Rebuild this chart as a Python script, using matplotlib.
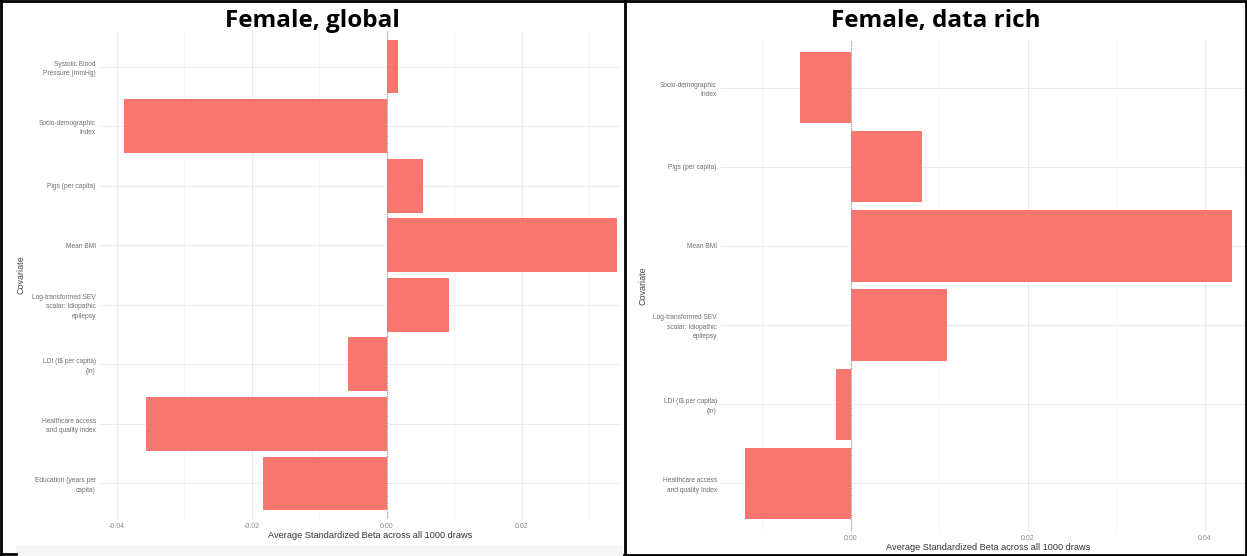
import matplotlib
matplotlib.use("Agg")
import matplotlib.pyplot as plt
from matplotlib.lines import Line2D
from matplotlib.patches import Rectangle

# Female, global
glob_labels = ["Systolic Blood\nPressure (mmHg)", "Socio-demographic\nIndex", "Pigs (per capita)",
               "Mean BMI", "Log-transformed SEV\nscalar: Idiopathic\nepilepsy",
               "LDI (I\\$ per capita)\n(ln)", "Healthcare access\nand quality index",
               "Education (years per\ncapita)"]
glob_vals = [0.0017, -0.0389, 0.0054, 0.0341, 0.0092, -0.0058, -0.0357, -0.0183]
glob_ticks = [-0.04, -0.02, 0.00, 0.02]

# Female, data rich
rich_labels = ["Socio-demographic\nIndex", "Pigs (per capita)", "Mean BMI",
               "Log-transformed SEV\nscalar: Idiopathic\nepilepsy",
               "LDI (I\\$ per capita)\n(ln)", "Healthcare access\nand quality Index"]
rich_vals = [-0.0057, 0.0080, 0.0431, 0.0109, -0.0017, -0.0119]
rich_ticks = [0.00, 0.02, 0.04]

W, H = 1247, 556
fig = plt.figure(figsize=(W / 100, H / 100), dpi=100)
plt.rcParams['font.family'] = ['Liberation Sans', 'DejaVu Sans']

def px_axes(x0, y0, x1, y1):
    return fig.add_axes([x0 / W, 1 - y1 / H, (x1 - x0) / W, (y1 - y0) / H])

bar_col = '#F8766D'
xlab = 'Average Standardized Beta across all 1000 draws'

def panel(ax, labels, vals, ticks, xlim):
    n = len(labels)
    pos = list(range(1, n + 1))
    ax.barh(pos, vals, height=0.9, color=bar_col, zorder=3)
    ax.set_yticks(pos)
    ax.set_yticklabels(labels, fontsize=4.8, color='#6e6e6e', linespacing=1.45)
    ax.set_xticks(ticks)
    ax.set_xticklabels(['%.2f' % t for t in ticks], fontsize=5, color='#8a8a8a')
    ax.set_xticks([t + 0.01 for t in ticks] + [ticks[0] - 0.01], minor=True)
    ax.set_ylim(n + 0.6, 0.4)
    ax.set_xlim(*xlim)
    ax.tick_params(which='both', length=0, pad=3)
    ax.tick_params(axis='x', pad=3)
    ax.grid(True, which='major', color='#ebebeb', lw=0.8, zorder=0)
    ax.grid(True, which='minor', axis='x', color='#f4f4f4', lw=0.6, zorder=0)
    ax.axvline(0, color='#9a9a9a', ls=(0, (1, 1)), lw=0.8, zorder=4)
    for s in ax.spines.values():
        s.set_visible(False)
    ax.set_ylabel('Covariate', fontsize=6.5, color='#444444')

# left panel axes (pixel placement)
axL = px_axes(100, 31, 621, 519)
panel(axL, glob_labels, glob_vals, glob_ticks, (-0.0425, 0.0347))
axL.yaxis.set_label_coords((26 - 100) / 521, 0.5)
fig.text(370 / W, 1 - 536 / H, xlab, fontsize=6.6, color='#333333', ha='center', va='center')

axR = px_axes(721, 40, 1245, 531)
panel(axR, rich_labels, rich_vals, rich_ticks, (-0.01466, 0.04455))
axR.yaxis.set_label_coords((648 - 721) / 524, 0.5)
fig.text(988 / W, 1 - 548 / H, xlab, fontsize=6.6, color='#333333', ha='center', va='center')

# titles
fig.text(312 / W, 1 - 21 / H, 'Female, global', fontsize=17.5, fontweight='bold',
         family='Open Sans', ha='center', va='center')
fig.text(936 / W, 1 - 21 / H, 'Female, data rich', fontsize=17.5, fontweight='bold',
         family='Open Sans', ha='center', va='center')

# table frame around the two panels
fig.add_artist(Rectangle((16 / W, 0), (622 - 16) / W, 11 / H, color='#f6f6f6',
                         transform=fig.transFigure, zorder=0))

def hline(x0, x1, y, lw=2):
    fig.add_artist(Line2D([x0 / W, x1 / W], [1 - y / H, 1 - y / H], color='black', lw=lw,
                          transform=fig.transFigure))

def vline(x, y0, y1, lw=2):
    fig.add_artist(Line2D([x / W, x / W], [1 - y0 / H, 1 - y1 / H], color='black', lw=lw,
                          transform=fig.transFigure))

hline(0, W, 1)
vline(1, 0, 555)
hline(0, 16, 554)
vline(624.5, 0, 556)
vline(1246, 0, 556)
hline(624, W, 555)

fig.savefig('out.png', dpi=100)
